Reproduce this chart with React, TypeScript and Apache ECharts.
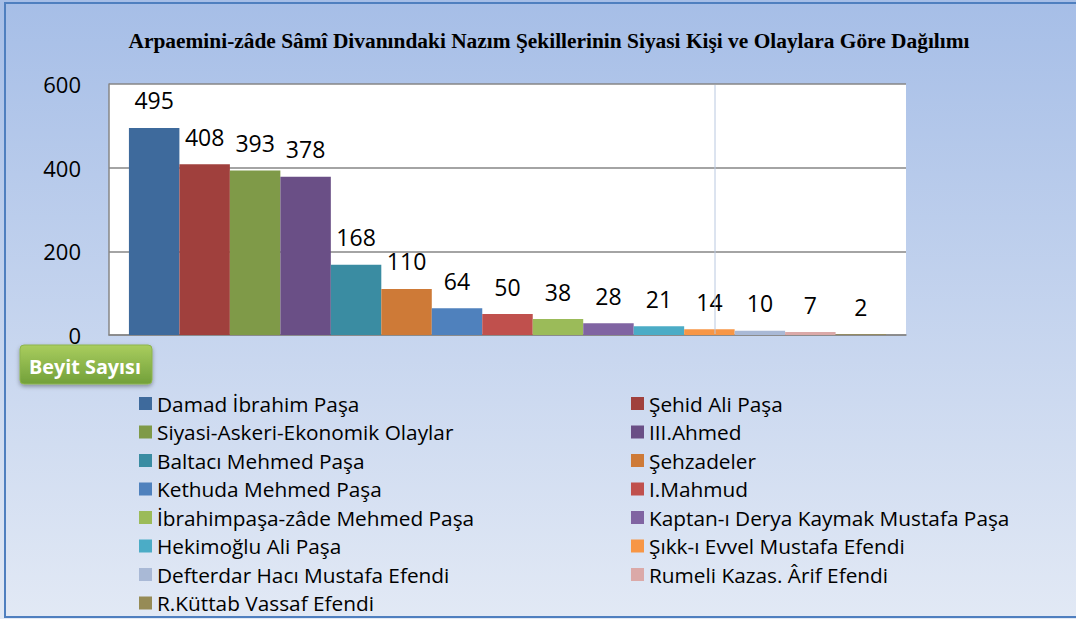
import React, { useEffect, useRef } from "react";
import * as echarts from "echarts";

const titleText = "Arpaemini-zâde Sâmî Divanındaki Nazım Şekillerinin Siyasi Kişi ve Olaylara Göre Dağılımı";
const axisTitle = "Beyit Sayısı";
const category = ["Beyit Sayısı"];
const seriesNames = [
  "Damad İbrahim Paşa",
  "Şehid Ali Paşa",
  "Siyasi-Askeri-Ekonomik Olaylar",
  "III.Ahmed",
  "Baltacı Mehmed Paşa",
  "Şehzadeler",
  "Kethuda Mehmed Paşa",
  "I.Mahmud",
  "İbrahimpaşa-zâde Mehmed Paşa",
  "Kaptan-ı Derya Kaymak Mustafa Paşa",
  "Hekimoğlu Ali Paşa",
  "Şıkk-ı Evvel Mustafa Efendi",
  "Defterdar Hacı Mustafa Efendi",
  "Rumeli Kazas. Ârif Efendi",
  "R.Küttab Vassaf Efendi",
];
const values = [495, 408, 393, 378, 168, 110, 64, 50, 38, 28, 21, 14, 10, 7, 2];
const colors = [
  "#3E6A9C", "#A0403D", "#7F9A48", "#6A4F86", "#3A8CA2", "#CE7A37",
  "#4F81BD", "#C0504D", "#9BBB59", "#8064A2", "#4BACC6", "#F79646",
  "#A9B9D6", "#DBA9A8", "#968B56",
];
const yTicks = [0, 200, 400, 600];

export default function App() {
  const ref = useRef<HTMLDivElement>(null);
  useEffect(() => {
    if (!ref.current) return;
    const chart = echarts.init(ref.current, null, { renderer: "svg" });
    const font = "'Open Sans', sans-serif";
    const leftNames = seriesNames.filter((_, i) => i % 2 === 0);
    const rightNames = seriesNames.filter((_, i) => i % 2 === 1);
    const legendCommon = {
      orient: "vertical" as const,
      top: 393,
      height: 260,
      itemWidth: 13,
      itemHeight: 13,
      itemGap: 7.5,
      icon: "rect",
      textStyle: { fontFamily: font, fontSize: 20.8, lineHeight: 21, color: "#000", padding: [0, 0, 0, 0] },
      padding: 0,
    };
    chart.setOption({
      animation: false,
      backgroundColor: {
        type: "linear", x: 0, y: 0, x2: 0, y2: 1,
        colorStops: [
          { offset: 0, color: "#A6BEE7" },
          { offset: 1, color: "#E2E9F5" },
        ],
      },
      title: {
        text: titleText,
        left: 544,
        textAlign: "center",
        top: 25,
        textStyle: { fontFamily: "'Liberation Serif', 'Times New Roman', serif", fontWeight: "bold", fontSize: 21.4, color: "#000" },
      },
      color: colors,
      grid: {
        left: 109, top: 84, right: 170, bottom: 284,
        show: true, backgroundColor: "#ffffff", borderWidth: 0,
        containLabel: false,
      },
      legend: [
        { ...legendCommon, left: 139, data: leftNames },
        { ...legendCommon, left: 631, data: rightNames },
      ],
      xAxis: {
        type: "category",
        data: category,
        axisLabel: { show: false },
        axisTick: { show: false },
        axisLine: { lineStyle: { color: "#868686", width: 1.5 } },
      },
      yAxis: {
        type: "value",
        min: yTicks[0],
        max: yTicks[yTicks.length - 1],
        interval: 200,
        axisLine: { show: true, lineStyle: { color: "#868686", width: 1.5 } },
        axisTick: { show: false },
        splitLine: { lineStyle: { color: "#868686", width: 1.5 } },
        axisLabel: { fontFamily: font, fontSize: 22, color: "#000", margin: 28 },
      },
      series: seriesNames.map((name, i) => ({
        name,
        type: "bar",
        data: [values[i]],
        barGap: "0%",
        barCategoryGap: "5%",
        itemStyle: { color: colors[i] },
        label: {
          show: true,
          position: "top",
          distance: 16,
          fontFamily: font,
          fontSize: 23,
          color: "#000",
        },
      })),
      graphic: [
        {
          type: "line",
          shape: { x1: 715, y1: 85, x2: 715, y2: 334 },
          style: { stroke: "#B9C8E0", lineWidth: 1 },
          z: 100,
        },
        {
          type: "rect",
          shape: { x: 5, y: 3, width: 1080, height: 614 },
          style: { fill: "none", stroke: "#4F7FBF", lineWidth: 2 },
          z: 100,
        },
        {
          type: "rect",
          shape: { x: 20, y: 345, width: 132, height: 39, r: 4 },
          style: {
            fill: {
              type: "linear", x: 0, y: 0, x2: 0, y2: 1,
              colorStops: [
                { offset: 0, color: "#A9CD5E" },
                { offset: 1, color: "#72A03A" },
              ],
            },
            stroke: "#8DB44E",
            lineWidth: 1,
            shadowBlur: 4,
            shadowColor: "rgba(0,0,0,0.35)",
            shadowOffsetY: 2,
          },
          z: 100,
        },
        {
          type: "text",
          x: 85,
          y: 366,
          style: {
            text: axisTitle,
            fill: "#ffffff",
            fontFamily: font,
            fontWeight: "bold",
            fontSize: 19.8,
            textAlign: "center",
            textVerticalAlign: "middle",
          },
          z: 101,
        },
      ],
    });
    return () => chart.dispose();
  }, []);
  return <div ref={ref} style={{ width: 1076, height: 619, position: "absolute", left: 0, top: 0 }} />;
}
